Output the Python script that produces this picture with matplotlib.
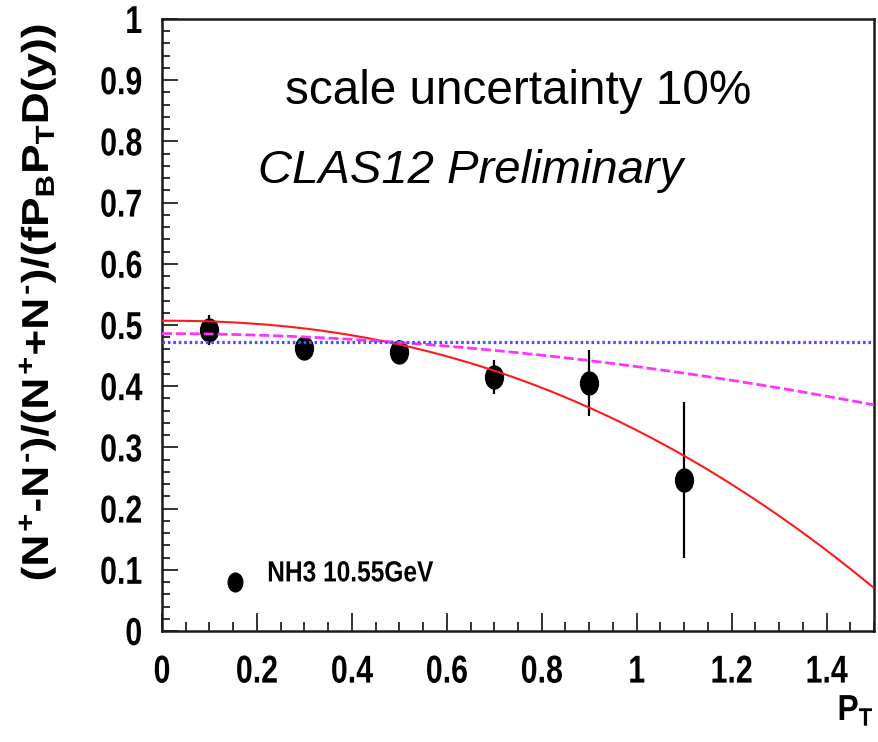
import numpy as np
import matplotlib
matplotlib.use("Agg")
import matplotlib.pyplot as plt
from matplotlib.path import Path
from matplotlib.patheffects import AbstractPathEffect
from matplotlib.transforms import Affine2D
from matplotlib.ticker import MultipleLocator, FixedLocator

# Measured asymmetry points
pt = [0.1, 0.3, 0.5, 0.7, 0.9, 1.1]
asym = [0.492, 0.462, 0.456, 0.415, 0.405, 0.247]
asym_err = [0.024, 0.010, 0.019, 0.028, 0.054, 0.127]

# Fit curves: a - b * x**n
red_fit = (0.507, 0.179, 2.2)
magenta_fit = (0.486, 0.054, 1.9)
blue_const = 0.473

xticks = [0, 0.2, 0.4, 0.6, 0.8, 1.0, 1.2, 1.4]
xticklabels = ["0", "0.2", "0.4", "0.6", "0.8", "1", "1.2", "1.4"]
yticks = [0, 0.1, 0.2, 0.3, 0.4, 0.5, 0.6, 0.7, 0.8, 0.9, 1.0]
yticklabels = ["0", "0.1", "0.2", "0.3", "0.4", "0.5", "0.6", "0.7", "0.8", "0.9", "1"]

legend_label = "NH3 10.55GeV"


class Squeeze(AbstractPathEffect):
    """Scale glyphs along the text direction around a chosen anchor."""

    def __init__(self, sx, anchor="center"):
        super().__init__()
        self.sx = sx
        self.anchor = anchor

    def draw_path(self, renderer, gc, tpath, affine, rgbFace=None):
        ext = tpath.get_extents()
        if self.anchor == "right":
            x0 = ext.x1
        elif self.anchor == "left":
            x0 = ext.x0
        else:
            x0 = 0.5 * (ext.x0 + ext.x1)
        t = Affine2D().translate(-x0, 0).scale(self.sx, 1.0).translate(x0, 0) + affine
        renderer.draw_path(gc, tpath, t, rgbFace)


plt.rcParams["font.family"] = ["Liberation Sans", "DejaVu Sans"]
plt.rcParams["mathtext.fontset"] = "custom"
plt.rcParams["mathtext.rm"] = "Liberation Sans:bold"
plt.rcParams["mathtext.it"] = "Liberation Sans:bold"
plt.rcParams["mathtext.bf"] = "Liberation Sans:bold"

fig = plt.figure(figsize=(8.79, 7.42), dpi=100)
ax = fig.add_axes([0.1843, 0.1496, 0.9943 - 0.1843, 0.9744 - 0.1496])
ax.set_xlim(0, 1.5)
ax.set_ylim(0, 1)

# elliptical marker
ell = Path.unit_circle().transformed(Affine2D().scale(0.78, 1.0))

ax.errorbar(pt, asym, yerr=asym_err, fmt="none", ecolor="black",
            elinewidth=1.6, capsize=0, zorder=2)
ax.plot(pt, asym, linestyle="none", marker=ell, markersize=16.5,
        color="black", zorder=2)

xs = np.linspace(0, 1.5, 300)
a, b, n = red_fit
ax.plot(xs, a - b * xs ** n, color="#ff1a1a", lw=1.5, zorder=3)
a, b, n = magenta_fit
ax.plot(xs, a - b * xs ** n, color="#ff33ff", lw=2.0, dashes=(3.6, 1.4), zorder=3)
ax.axhline(blue_const, color="#4d4dff", lw=2.3, dashes=(0.8, 0.9), zorder=3)

# tick styling
ax.xaxis.set_major_locator(FixedLocator(xticks))
ax.xaxis.set_minor_locator(MultipleLocator(0.05))
ax.yaxis.set_major_locator(FixedLocator(yticks))
ax.yaxis.set_minor_locator(MultipleLocator(0.02))
ax.set_xticklabels(xticklabels)
ax.set_yticklabels(yticklabels)
ax.tick_params(which="both", direction="in", top=False, right=False,
               color="#222222", width=1.3)
ax.tick_params(axis="x", which="major", length=13, pad=17)
ax.tick_params(axis="x", which="minor", length=6.5)
ax.tick_params(axis="y", which="major", length=11.5, pad=14)
ax.tick_params(axis="y", which="minor", length=5.8)
for lab in ax.get_xticklabels():
    lab.set_fontweight("bold")
    lab.set_fontsize(28)
    lab.set_path_effects([Squeeze(0.78, "center")])
for lab in ax.get_yticklabels():
    lab.set_fontweight("bold")
    lab.set_fontsize(28)
    lab.set_path_effects([Squeeze(0.78, "right")])
for s in ax.spines.values():
    s.set_linewidth(1.8)
    s.set_color("#1a1a1a")

# annotations
ax.text(0.259, 0.861, "scale uncertainty 10%", fontsize=34.3, va="baseline", ha="left")
ax.text(0.202, 0.732, "CLAS12 Preliminary", fontsize=34, style="italic",
        va="baseline", ha="left")

# legend entry
ax.plot([0.154], [0.080], linestyle="none", marker=ell, markersize=13.5, color="black")
ax.text(0.221, 0.081, legend_label, fontweight="bold", fontsize=21,
        va="baseline", ha="left", path_effects=[Squeeze(0.84, "left")])

# axis titles
hy = "\u2010"
ylab = (r"$(N^{+}{" + hy + r"}N^{" + hy + r"})/(N^{+}{+}N^{" + hy
        + r"})/(fP_{B}P_{T}D(y))$")
fig.text(0.042, 0.593, ylab, rotation=90, fontsize=27, ha="center", va="center",
         path_effects=[Squeeze(1.18, "center")])
fig.text(0.9943, 0.0296, r"$P_{T}$", fontsize=26, ha="right", va="baseline",
         path_effects=[Squeeze(0.88, "right")])

fig.savefig("out.png", dpi=100)
